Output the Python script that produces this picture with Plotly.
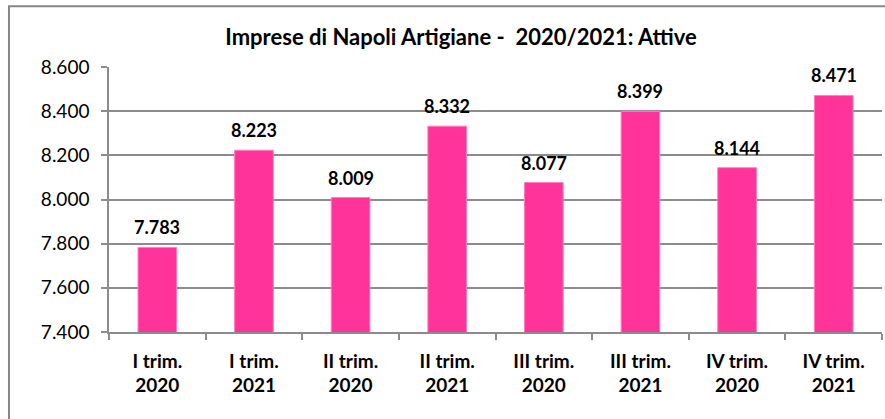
import plotly.graph_objects as go

# Quarterly count of active artisan businesses in Naples
categories = ["I trim.<br>2020", "I trim.<br>2021", "II trim.<br>2020", "II trim.<br>2021",
              "III trim.<br>2020", "III trim.<br>2021", "IV trim.<br>2020", "IV trim.<br>2021"]
attive = [7783, 8223, 8009, 8332, 8077, 8399, 8144, 8471]
y_ticks = [7400, 7600, 7800, 8000, 8200, 8400, 8600]

FONT = "Lato, Carlito, Calibri, sans-serif"
GRID = "#8c8c8c"

fig = go.Figure(go.Bar(
    x=categories,
    y=attive,
    width=0.4,
    marker=dict(color="#FF3399", line=dict(color="#ff7fbf", width=1)),
))

# Value labels above each bar
for cat, val in zip(categories, attive):
    fig.add_annotation(
        x=cat, y=val, text=f"{val:,}".replace(",", "."),
        showarrow=False, yanchor="middle", yshift=20,
        font=dict(family=FONT, size=18, color="black", weight="bold"),
    )

fig.update_layout(
    width=885, height=419,
    margin=dict(l=109, r=3, t=67, b=87),
    paper_bgcolor="white",
    plot_bgcolor="white",
    separators=",.",
    showlegend=False,
    title=dict(
        text="Imprese di Napoli Artigiane -  2020/2021: Attive",
        x=0.521, xanchor="center", y=0.912, yanchor="middle",
        font=dict(family=FONT, size=22, color="black", weight="bold"),
    ),
    font=dict(family=FONT, color="black"),
    bargap=0.6,
)

fig.update_yaxes(
    range=[7400, 8600],
    tickvals=y_ticks,
    tickformat=",d",
    showgrid=True, gridcolor=GRID, gridwidth=1.5,
    showline=True, linecolor=GRID, linewidth=1.5,
    ticks="outside", ticklen=6, tickcolor=GRID, tickwidth=1.5,
    ticklabelstandoff=8,
    tickfont=dict(family=FONT, size=19, color="black"),
    zeroline=False,
)

fig.update_xaxes(
    showline=True, linecolor=GRID, linewidth=1.5,
    ticks="outside", tickson="boundaries", ticklen=6, tickcolor=GRID, tickwidth=1.5,
    ticklabelstandoff=11,
    tickfont=dict(family=FONT, size=19, color="black", weight="bold"),
    showgrid=False,
)

# Chart-area frame
fig.add_shape(
    type="rect", xref="paper", yref="paper",
    x0=-0.1294, x1=1.5, y0=-0.5, y1=1.229,
    line=dict(color="#878787", width=2), fillcolor="rgba(0,0,0,0)",
    layer="below",
)

fig.write_html("out.html")
